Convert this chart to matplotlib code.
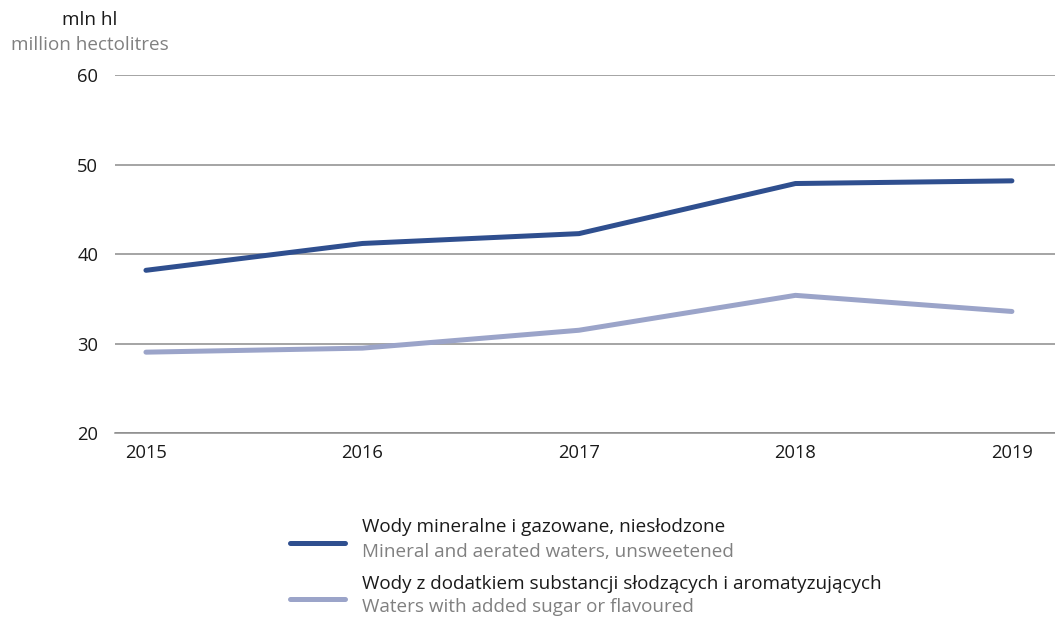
import matplotlib.pyplot as plt
from matplotlib.lines import Line2D

plt.rcParams['font.family'] = ['Open Sans', 'DejaVu Sans']

years = [2015, 2016, 2017, 2018, 2019]
mineral = [38.2, 41.2, 42.3, 47.9, 48.2]
flavoured = [29.05, 29.5, 31.5, 35.4, 33.6]

labels_pl = ["Wody mineralne i gazowane, niesłodzone",
             "Wody z dodatkiem substancji słodzących i aromatyzujących"]
labels_en = ["Mineral and aerated waters, unsweetened",
             "Waters with added sugar or flavoured"]
colors = ["#2f4f8f", "#9ba4c9"]

fs = 13.6

fig = plt.figure(figsize=(10.55, 6.17), dpi=100)
ax = fig.add_axes([0.109, 0.298, 0.891, 0.58])

for vals, c in zip([mineral, flavoured], colors):
    ax.plot(years, vals, color=c, lw=3.6, solid_capstyle='round',
            solid_joinstyle='round', zorder=3)

ax.set_ylim(20, 60)
ax.set_xlim(2014.857, 2019.199)
ax.set_yticks([20, 30, 40, 50, 60])
ax.set_xticks(years)
ax.grid(axis='y', color='#8c8c8c', lw=1.1)
for s in ['top', 'right', 'left']:
    ax.spines[s].set_visible(False)
ax.spines['bottom'].set_color('#8c8c8c')
ax.spines['bottom'].set_linewidth(1.1)
ax.tick_params(length=0, labelsize=fs - 0.4, colors='#1a1a1a')
ax.tick_params(axis='y', pad=12)
ax.tick_params(axis='x', pad=8)

fig.text(0.085, 0.968, "mln hl", ha='center', va='center', fontsize=fs, color='#1a1a1a')
fig.text(0.085, 0.927, "million hectolitres", ha='center', va='center', fontsize=fs, color='#808080')

# legend
for i in range(2):
    y_line = [543, 599][i]
    y_pl = [527, 584][i]
    y_en = [552, 607][i]
    fig.add_artist(Line2D([290 / 1055, 345 / 1055], [1 - y_line / 617] * 2,
                          color=colors[i], lw=3.6, solid_capstyle='round'))
    fig.text(362 / 1055, 1 - y_pl / 617, labels_pl[i], va='center', fontsize=fs, color='#1a1a1a')
    fig.text(362 / 1055, 1 - y_en / 617, labels_en[i], va='center', fontsize=fs, color='#808080')

fig.savefig("out.png", dpi=100)
